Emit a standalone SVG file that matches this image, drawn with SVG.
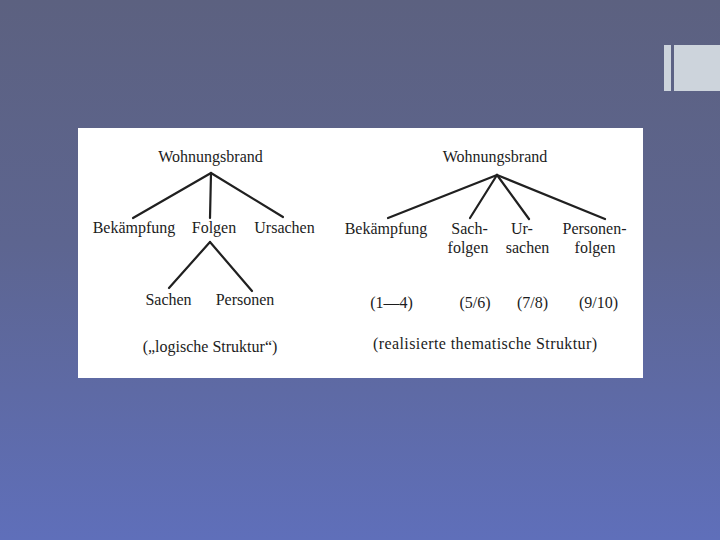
<svg xmlns="http://www.w3.org/2000/svg" width="720" height="540" viewBox="0 0 720 540">
<defs>
<linearGradient id="bg" x1="0" y1="0" x2="0" y2="1">
<stop offset="0" stop-color="#5c6180"/>
<stop offset="0.45" stop-color="#5d6590"/>
<stop offset="1" stop-color="#5f6fba"/>
</linearGradient>
<style>
text{font-family:"Liberation Serif","Times New Roman",serif;font-size:16px;fill:#1c1c1c;text-anchor:middle}
.edge{stroke:#202020;stroke-width:2.2;stroke-linecap:round;fill:none}
.deco{fill:#cdd4dc}
</style>
</defs>
<rect x="0" y="0" width="720" height="540" fill="url(#bg)"/>
<rect class="deco" x="664" y="45" width="7" height="46"/>
<rect class="deco" x="674" y="45" width="46" height="46"/>
<rect x="78" y="128" width="565" height="250" fill="#ffffff"/>
<g id="connectors">
<line class="edge" x1="211" y1="173" x2="133" y2="218"/>
<line class="edge" x1="211" y1="173" x2="210" y2="218"/>
<line class="edge" x1="211" y1="173" x2="283" y2="217"/>
<line class="edge" x1="210" y1="242" x2="169" y2="288"/>
<line class="edge" x1="210" y1="242" x2="252" y2="291"/>
<line class="edge" x1="497" y1="175" x2="388" y2="218"/>
<line class="edge" x1="497" y1="175" x2="470" y2="218"/>
<line class="edge" x1="497" y1="175" x2="529" y2="219"/>
<line class="edge" x1="497" y1="175" x2="605" y2="219"/>
</g>
<g id="l-root"><text x="210.5" y="162">Wohnungsbrand</text></g>
<g id="l-bekaempfung"><text x="134" y="233">Bekämpfung</text></g>
<g id="l-folgen"><text x="214" y="233">Folgen</text></g>
<g id="l-ursachen"><text x="284.5" y="233">Ursachen</text></g>
<g id="l-sachen"><text x="168.5" y="305">Sachen</text></g>
<g id="l-personen"><text x="245" y="305">Personen</text></g>
<g id="l-caption"><text x="210" y="352">(„logische Struktur“)</text></g>
<g id="r-root"><text x="495" y="162">Wohnungsbrand</text></g>
<g id="r-bekaempfung"><text x="386" y="234">Bekämpfung</text><text x="391.5" y="308">(1—4)</text></g>
<g id="r-sachfolgen"><text x="469.5" y="234">Sach-</text><text x="468" y="253">folgen</text><text x="475" y="308">(5/6)</text></g>
<g id="r-ursachen"><text x="522" y="234">Ur-</text><text x="527.5" y="253">sachen</text><text x="532.5" y="308">(7/8)</text></g>
<g id="r-personenfolgen"><text x="594.5" y="234">Personen-</text><text x="595" y="253">folgen</text><text x="598.5" y="308">(9/10)</text></g>
<g id="r-caption"><text x="485" y="349" textLength="224" lengthAdjust="spacing">(realisierte thematische Struktur)</text></g>
</svg>
